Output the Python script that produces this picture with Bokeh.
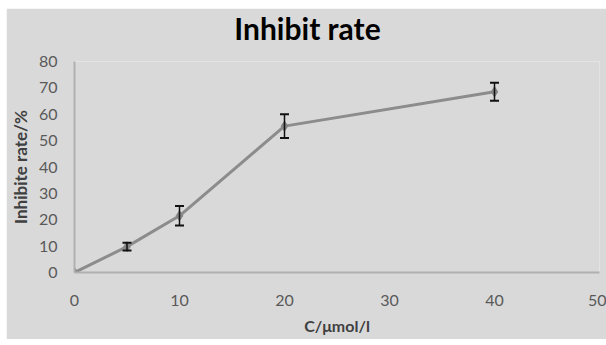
from bokeh.plotting import figure
from bokeh.models import ColumnDataSource, Whisker, TeeHead, FixedTicker, Range1d, Label
from bokeh.embed import file_html
from bokeh.resources import INLINE

# Data
conc = [0, 5, 10, 20, 40]
inhibit = [0, 9.8, 21.5, 55.5, 68.5]
err = [0, 1.5, 3.7, 4.5, 3.4]
x_ticks = [0, 10, 20, 30, 40, 50]
y_ticks = [0, 10, 20, 30, 40, 50, 60, 70, 80]
title_text = "Inhibit rate"
x_title = "C/μmol/l"
y_title = "Inhibite rate/%"

BG = "#d9d9d9"
FONT = "Lato"

p = figure(width=600, height=331, output_backend="svg", toolbar_location=None,
           x_range=Range1d(0, 50), y_range=Range1d(0, 80), title=None,
           min_border_left=67, min_border_right=7, min_border_top=53, min_border_bottom=67)
p.margin = (8, 0, 0, 6)
p.background_fill_color = BG
p.border_fill_color = BG
p.outline_line_color = None
p.grid.visible = False

for ax, ticks in ((p.xaxis, x_ticks), (p.yaxis, y_ticks)):
    ax.ticker = FixedTicker(ticks=ticks)
    ax.major_tick_line_color = None
    ax.minor_tick_line_color = None
    ax.axis_line_color = "#b0b0b0"
    ax.axis_line_width = 2
    ax.major_label_text_font = FONT
    ax.major_label_text_font_size = "16px"
    ax.major_label_text_color = "#595959"
    ax.axis_label_text_font = FONT
    ax.axis_label_text_font_style = "bold"
    ax.axis_label_text_color = "#404040"

p.xaxis.axis_label = x_title
p.yaxis.axis_label = y_title
p.xaxis.axis_label_text_font_size = "16px"
p.yaxis.axis_label_text_font_size = "17px"
p.xaxis.major_label_standoff = 16
p.xaxis.axis_label_standoff = 7
p.yaxis.major_label_standoff = 11
p.yaxis.axis_label_standoff = 5

# Chart title, placed in the panel above the plot frame
p.add_layout(Label(x=233, y=34, x_units="screen", y_units="screen", text=title_text,
                   text_font=FONT, text_font_size="30px", text_font_style="bold",
                   text_color="#000000", text_align="center", text_baseline="alphabetic"),
             "above")

src = ColumnDataSource(dict(x=conc, y=inhibit))
ebar_src = ColumnDataSource(dict(x=[c for c, e in zip(conc, err) if e > 0],
                                 lo=[a - e for a, e in zip(inhibit, err) if e > 0],
                                 hi=[a + e for a, e in zip(inhibit, err) if e > 0]))

p.line("x", "y", source=src, line_color="#8c8c8c", line_width=3)
p.scatter("x", "y", source=src, marker="diamond", size=10, fill_color="#858585", line_color="#858585")

wh = Whisker(base="x", upper="hi", lower="lo", source=ebar_src, dimension="height",
             line_color="#111111", line_width=1.5, level="overlay",
             upper_head=TeeHead(size=9, line_color="#111111", line_width=2),
             lower_head=TeeHead(size=9, line_color="#111111", line_width=2))
p.add_layout(wh)

open("out.html", "w").write(file_html(p, INLINE))
